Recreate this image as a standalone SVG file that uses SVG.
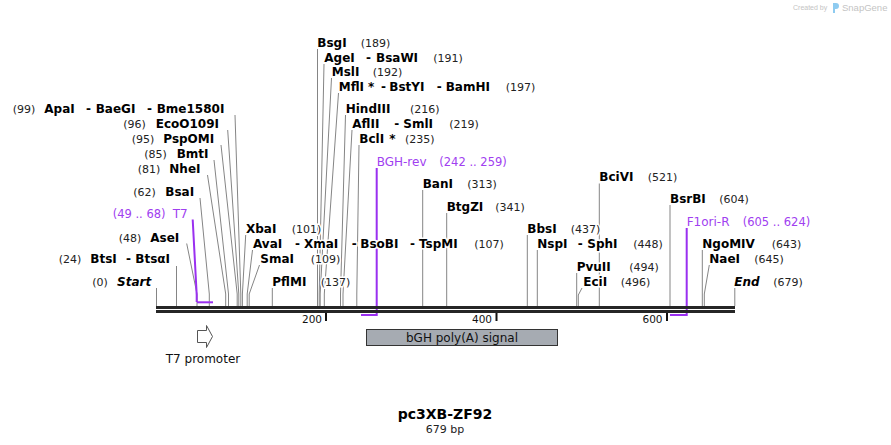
<svg xmlns="http://www.w3.org/2000/svg" width="891" height="445" viewBox="0 0 891 445">
<style>
text{font-family:"DejaVu Sans","Verdana",sans-serif;}
.n{font-size:12px;font-weight:bold;fill:#000;stroke:#fff;stroke-width:3;paint-order:stroke;}
.i{font-style:italic;}
.p{font-size:11px;fill:#222;stroke:#fff;stroke-width:3;paint-order:stroke;}
.pn{font-size:12px;fill:#a040f0;stroke:#fff;stroke-width:3;paint-order:stroke;}
.pp{font-size:11.5px;fill:#a040f0;stroke:#fff;stroke-width:3;paint-order:stroke;}
.cut{fill:none;stroke:#858585;stroke-width:1;}
.prim{fill:none;stroke:#9a30f0;stroke-width:2;}
.tick{font-size:10.5px;fill:#111;}
.wm{fill:#c4c4c4;font-family:"Liberation Sans",Arial,sans-serif;}
</style>
<rect width="891" height="445" fill="#fff"/>
<g id="watermark">
<text class="wm" x="793" y="10" font-size="7">Created by</text>
<path d="M833,3 h3 a3,3 0 0 1 0,6 h-1 v4 h-2 z" fill="#8ecbf0"/>
<text class="wm" x="842" y="11" font-size="9.5">SnapGene</text>
</g>
<g id="connectors">
<path class="cut" d="M156.5,288V306"/>
<path class="cut" d="M176.5,266V306"/>
<path class="cut" d="M186.7,243.5L197,294V306"/>
<path class="cut" d="M200,198L209.3,294V306"/>
<path class="cut" d="M207.5,175L225.7,294V306"/>
<path class="cut" d="M214,160L228.5,294V306"/>
<path class="cut" d="M221,145L237.2,294V306"/>
<path class="cut" d="M227.7,130L238.8,294V306"/>
<path class="cut" d="M235,115L240.8,294V306"/>
<path class="cut" d="M245.7,235L242.4,294V306"/>
<path class="cut" d="M252.5,250L247.2,294V306"/>
<path class="cut" d="M259.5,265L249.2,294V306"/>
<path class="cut" d="M272.3,288V306"/>
<path class="cut" d="M317.5,49V306"/>
<path class="cut" d="M324,64L319.2,294V306"/>
<path class="cut" d="M331.5,78L320.2,294V306"/>
<path class="cut" d="M338.5,93L324.3,294V306"/>
<path class="cut" d="M345.5,115L340.5,294V306"/>
<path class="cut" d="M352,130L343,294V306"/>
<path class="cut" d="M359,145L356.8,294V306"/>
<path class="cut" d="M422.7,190V306"/>
<path class="cut" d="M446.7,213V306"/>
<path class="cut" d="M527.3,235V306"/>
<path class="cut" d="M537.3,250V306"/>
<path class="cut" d="M576.7,273V306"/>
<path class="cut" d="M582,288L578.3,295V306"/>
<path class="cut" d="M599.3,183.5V306"/>
<path class="cut" d="M670,205V306"/>
<path class="cut" d="M702.3,250V306"/>
<path class="cut" d="M709.3,265L704.3,294V306"/>
<path class="cut" d="M734.8,288V306"/>
<path class="prim" d="M192.7,219.5L196.7,295V302"/>
<path class="prim" d="M197,302.3H213"/>
<path class="prim" d="M376.7,168V315H361"/>
<path class="prim" d="M686.7,228V315H670"/>
</g>
<g id="backbone">
<rect x="156" y="306" width="579" height="3" fill="#262626"/>
<rect x="156" y="310" width="579" height="3" fill="#262626"/>
<path d="M326,313V321M496.5,313V321M667,313V321" stroke="#111" stroke-width="2"/>
<text class="tick" x="322" y="322.5" text-anchor="end">200</text>
<text class="tick" x="492" y="322.5" text-anchor="end">400</text>
<text class="tick" x="662.5" y="322.5" text-anchor="end">600</text>
</g>
<g id="site-ApaI"><text class="p" x="12.7" y="113">(99)</text><text class="n" x="44.3" y="113">ApaI</text><text class="n" x="86" y="113">-</text><text class="n" x="95.7" y="113">BaeGI</text><text class="n" x="147" y="113">-</text><text class="n" x="156.7" y="113">Bme1580I</text></g>
<g id="site-EcoO109I"><text class="p" x="123.3" y="128">(96)</text><text class="n" x="155.7" y="128">EcoO109I</text></g>
<g id="site-PspOMI"><text class="p" x="131.7" y="142.5">(95)</text><text class="n" x="163.3" y="142.5">PspOMI</text></g>
<g id="site-BmtI"><text class="p" x="144.3" y="158">(85)</text><text class="n" x="176.7" y="158">BmtI</text></g>
<g id="site-NheI"><text class="p" x="137.7" y="173">(81)</text><text class="n" x="169.3" y="173">NheI</text></g>
<g id="site-BsaI"><text class="p" x="133.3" y="196">(62)</text><text class="n" x="165.3" y="196">BsaI</text></g>
<g id="primer-T7"><text class="pp" x="112.7" y="218">(49 .. 68)</text><text class="pn" x="172.7" y="218">T7</text></g>
<g id="site-AseI"><text class="p" x="118.7" y="241.5">(48)</text><text class="n" x="150.3" y="241.5">AseI</text></g>
<g id="site-BtsI"><text class="p" x="58.7" y="263">(24)</text><text class="n" x="90.3" y="263">BtsI</text><text class="n" x="126" y="263">-</text><text class="n" x="135.3" y="263">BtsαI</text></g>
<g id="site-Start"><text class="p" x="92.3" y="286">(0)</text><text class="n i" x="117" y="286">Start</text></g>
<g id="site-XbaI"><text class="n" x="246" y="232.7">XbaI</text><text class="p" x="291.7" y="232.7">(101)</text></g>
<g id="site-AvaI"><text class="n" x="253" y="247.7">AvaI</text><text class="n" x="295" y="247.7">-</text><text class="n" x="304" y="247.7">XmaI</text><text class="n" x="351.7" y="247.7">-</text><text class="n" x="360.3" y="247.7">BsoBI</text><text class="n" x="410" y="247.7">-</text><text class="n" x="419" y="247.7">TspMI</text><text class="p" x="474.3" y="247.7">(107)</text></g>
<g id="site-SmaI"><text class="n" x="260.3" y="262.7">SmaI</text><text class="p" x="310.7" y="262.7">(109)</text></g>
<g id="site-PflMI"><text class="n" x="272.3" y="285.7">PflMI</text><text class="p" x="320.7" y="285.7">(137)</text></g>
<g id="site-BsgI"><text class="n" x="317.3" y="46.7">BsgI</text><text class="p" x="360.7" y="46.7">(189)</text></g>
<g id="site-AgeI"><text class="n" x="324.3" y="61.5">AgeI</text><text class="n" x="366" y="61.5">-</text><text class="n" x="376" y="61.5">BsaWI</text><text class="p" x="433.3" y="61.5">(191)</text></g>
<g id="site-MslI"><text class="n" x="331.7" y="75.7">MslI</text><text class="p" x="372.7" y="75.7">(192)</text></g>
<g id="site-MflI"><text class="n" x="338.7" y="90.7">MflI</text><text class="n" x="368" y="90.7">*</text><text class="n" x="381" y="90.7">-</text><text class="n" x="389.3" y="90.7">BstYI</text><text class="n" x="436.7" y="90.7">-</text><text class="n" x="445.7" y="90.7">BamHI</text><text class="p" x="505.7" y="90.7">(197)</text></g>
<g id="site-HindIII"><text class="n" x="345.7" y="112.7">HindIII</text><text class="p" x="410" y="112.7">(216)</text></g>
<g id="site-AflII"><text class="n" x="352.3" y="127.7">AflII</text><text class="n" x="394.3" y="127.7">-</text><text class="n" x="403.3" y="127.7">SmlI</text><text class="p" x="449.3" y="127.7">(219)</text></g>
<g id="site-BclI"><text class="n" x="359.3" y="142.7">BclI</text><text class="n" x="389.3" y="142.7">*</text><text class="p" x="405" y="142.7">(235)</text></g>
<g id="primer-BGH-rev"><text class="pn" x="376.7" y="166">BGH-rev</text><text class="pp" x="439.3" y="166">(242 .. 259)</text></g>
<g id="site-BanI"><text class="n" x="422.7" y="187.7">BanI</text><text class="p" x="467.3" y="187.7">(313)</text></g>
<g id="site-BtgZI"><text class="n" x="446.7" y="210.7">BtgZI</text><text class="p" x="495.3" y="210.7">(341)</text></g>
<g id="site-BbsI"><text class="n" x="527.3" y="232.7">BbsI</text><text class="p" x="570.7" y="232.7">(437)</text></g>
<g id="site-NspI"><text class="n" x="537.3" y="247.7">NspI</text><text class="n" x="577.7" y="247.7">-</text><text class="n" x="587.3" y="247.7">SphI</text><text class="p" x="633.3" y="247.7">(448)</text></g>
<g id="site-PvuII"><text class="n" x="576.7" y="271">PvuII</text><text class="p" x="629.3" y="271">(494)</text></g>
<g id="site-EciI"><text class="n" x="583.3" y="286">EciI</text><text class="p" x="620.7" y="286">(496)</text></g>
<g id="site-BciVI"><text class="n" x="599.3" y="181">BciVI</text><text class="p" x="647.7" y="181">(521)</text></g>
<g id="site-BsrBI"><text class="n" x="670" y="202.7">BsrBI</text><text class="p" x="719.3" y="202.7">(604)</text></g>
<g id="primer-F1ori-R"><text class="pn" x="686.7" y="225.7">F1ori-R</text><text class="pp" x="742.7" y="225.7">(605 .. 624)</text></g>
<g id="site-NgoMIV"><text class="n" x="702.3" y="247.7">NgoMIV</text><text class="p" x="771.7" y="247.7">(643)</text></g>
<g id="site-NaeI"><text class="n" x="709.3" y="262.7">NaeI</text><text class="p" x="754.3" y="262.7">(645)</text></g>
<g id="site-End"><text class="n i" x="734.3" y="286">End</text><text class="p" x="773.3" y="286">(679)</text></g>
<g id="feature-T7-promoter">
<path d="M197.5,330.5H206.5V325.5L212.5,336.5L206.5,347.5V342.5H197.5Z" fill="#fff" stroke="#555" stroke-width="1"/>
<text x="203" y="362.7" font-size="12" fill="#111" text-anchor="middle">T7 promoter</text>
</g>
<g id="feature-bGH">
<rect x="366.5" y="329.5" width="191" height="16" fill="#a6abb2" stroke="#333" stroke-width="1"/>
<text x="462" y="341.5" font-size="12" fill="#111" text-anchor="middle">bGH poly(A) signal</text>
</g>
<g id="title">
<text x="445" y="419" font-size="14" font-weight="bold" fill="#000" text-anchor="middle">pc3XB-ZF92</text>
<text x="445" y="433" font-size="11" fill="#222" text-anchor="middle">679 bp</text>
</g>
</svg>
